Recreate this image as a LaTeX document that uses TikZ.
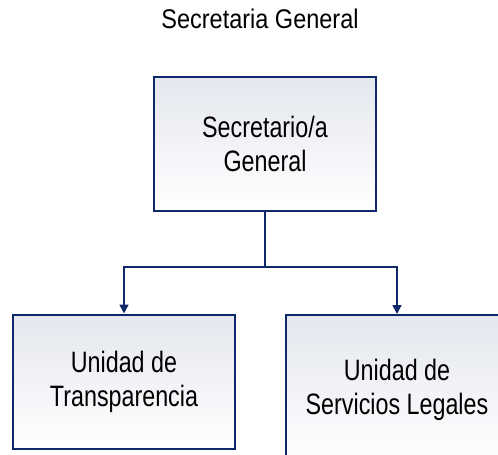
\documentclass[tikz,border=0pt]{standalone}
\usepackage{fontspec}
\setmainfont{Liberation Sans}
\newfontfamily\boxfont[FakeStretch=0.79]{Liberation Sans}
\newfontfamily\titlefont[FakeStretch=0.87]{Liberation Sans}
\usetikzlibrary{arrows.meta}
\definecolor{navy}{RGB}{14,40,106}
\definecolor{boxtop}{RGB}{228,231,238}
\begin{document}
\begin{tikzpicture}[x=1pt,y=-1pt,
    every node/.style={inner sep=0pt},
    unit/.style={draw=navy,line width=2pt,
      top color=boxtop,bottom color=white,
      minimum width=222pt,minimum height=134pt,align=center,
      font=\boxfont\fontsize{29.5}{34}\selectfont},
    conn/.style={draw=navy,line width=1.6pt,
      -{Triangle[width=9pt,length=9pt]}}]
    \useasboundingbox (0,0) rectangle (498,455);
    \clip (0,0) rectangle (498,455);
    \node[font=\titlefont\fontsize{27}{30}\selectfont] (title) at (260,19) {Secretaria General};
    \node[unit] (sec) at (265,144) {Secretario/a\\General};
    \node[unit] (transp) at (124,381.5) {Unidad de\\Transparencia};
    \node[unit,minimum height=150pt] (legal) at (397,390) {Unidad de\\Servicios Legales};
    \coordinate (split) at (265,267);
    \draw[navy,line width=1.6pt] (sec.south) -- (split);
    \draw[conn] (split) -| (transp.north);
    \draw[conn] (split) -| (legal.north);
\end{tikzpicture}
\end{document}
